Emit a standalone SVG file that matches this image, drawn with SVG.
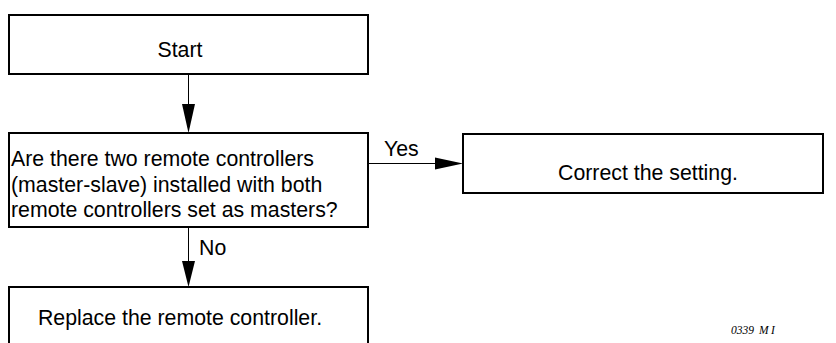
<svg xmlns="http://www.w3.org/2000/svg" width="836" height="343" viewBox="0 0 836 343">
<style>
.box{fill:#fff;stroke:#000;stroke-width:2}
.t{font-family:"Liberation Sans",Arial,sans-serif;font-size:21.3px;fill:#000}
.c{text-anchor:middle}
.ln{stroke:#000;stroke-width:1;fill:none}
.ah{fill:#000}
.ft{font-family:"Liberation Serif","Times New Roman",serif;font-style:italic;font-size:11.5px;fill:#000}
</style>
<rect width="836" height="343" fill="#fff"/>
<g id="start">
<rect class="box" x="9" y="15" width="359" height="59"/>
<text class="t c" x="180" y="57">Start</text>
</g>
<g id="decision">
<rect class="box" x="9" y="133" width="359" height="94"/>
<text class="t" x="11" y="166">Are there two remote controllers</text>
<text class="t" x="11" y="192">(master-slave) installed with both</text>
<text class="t" x="11" y="217">remote controllers set as masters?</text>
</g>
<g id="correct">
<rect class="box" x="463" y="134" width="360" height="59"/>
<text class="t c" x="648" y="180">Correct the setting.</text>
</g>
<g id="replace">
<rect class="box" x="9" y="287" width="359" height="70"/>
<text class="t c" x="180" y="325">Replace the remote controller.</text>
</g>
<g id="connectors">
<line class="ln" x1="188.5" y1="74" x2="188.5" y2="108"/>
<polygon class="ah" points="182,104 195,104 188.5,133"/>
<line class="ln" x1="368" y1="163.5" x2="438" y2="163.5"/>
<polygon class="ah" points="435,157.5 435,169.5 463,163.5"/>
<text class="t" x="384" y="156">Yes</text>
<line class="ln" x1="188.5" y1="227" x2="188.5" y2="265"/>
<polygon class="ah" points="182,261 195,261 188.5,287"/>
<text class="t" x="199" y="255">No</text>
</g>
<text class="ft" x="731" y="334">0339</text>
<text class="ft" x="759" y="334">M</text>
<text class="ft" x="771" y="334">I</text>
</svg>
